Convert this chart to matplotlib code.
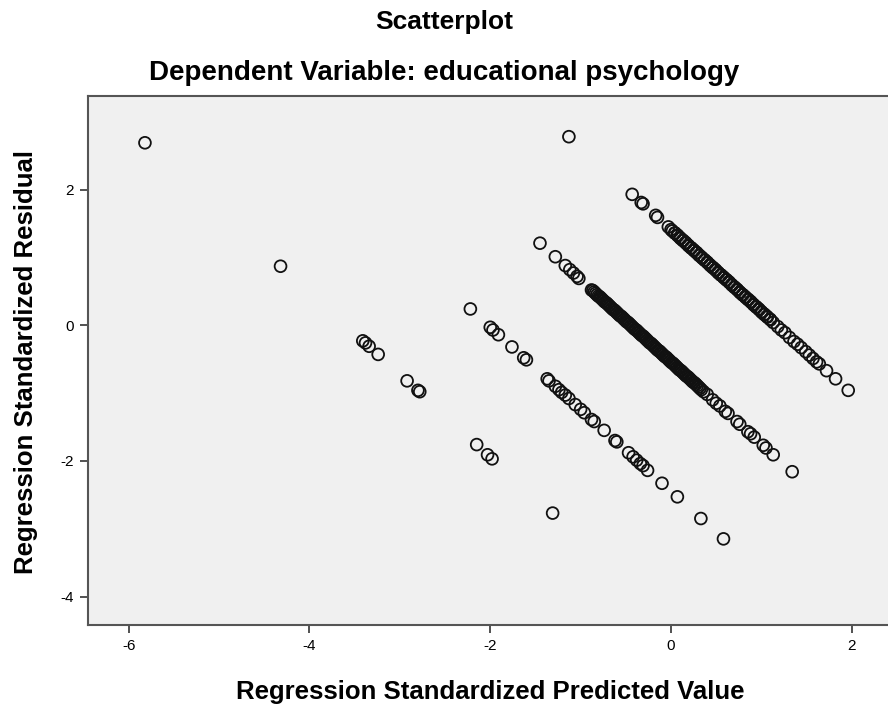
import matplotlib
matplotlib.use("Agg")
import matplotlib.pyplot as plt

plt.rcParams['font.family'] = ['Liberation Sans', 'DejaVu Sans']
plt.rcParams['axes.unicode_minus'] = False

# Band A
a_x = [-1.13, -0.43, -0.33, -0.31, -0.17, -0.15, -0.03, 0.00, 0.04, 0.07, 0.10, 0.13, 0.16, 0.19,
       0.22, 0.25, 0.28, 0.31, 0.34, 0.37, 0.40, 0.43, 0.46, 0.49, 0.52, 0.55, 0.58, 0.61, 0.64,
       0.67, 0.70, 0.73, 0.76, 0.79, 0.82, 0.85, 0.88, 0.91, 0.94, 0.97, 1.00, 1.03, 1.06, 1.10,
       1.13, 1.18, 1.22, 1.26, 1.31, 1.36, 1.40, 1.44, 1.49, 1.53, 1.57, 1.61, 1.64, 1.72, 1.82, 1.96]
a_y = [2.78, 1.93, 1.81, 1.79, 1.62, 1.59, 1.45, 1.41, 1.36, 1.33, 1.29, 1.25, 1.22, 1.18,
       1.14, 1.11, 1.07, 1.03, 1.00, 0.96, 0.93, 0.89, 0.85, 0.82, 0.78, 0.74, 0.71, 0.67, 0.64,
       0.60, 0.56, 0.53, 0.49, 0.45, 0.42, 0.38, 0.35, 0.31, 0.27, 0.24, 0.20, 0.16, 0.13, 0.08,
       0.04, -0.02, -0.07, -0.11, -0.18, -0.24, -0.28, -0.33, -0.39, -0.44, -0.49, -0.54, -0.57, -0.67, -0.79, -0.96]
# Band A, dense part (overlapping cases)
a2_x = [0.015, 0.045, 0.075, 0.105, 0.135, 0.165, 0.195, 0.225, 0.255, 0.285, 0.315, 0.345, 0.375,
        0.405, 0.435, 0.465, 0.495, 0.525, 0.555, 0.585, 0.615, 0.645, 0.675, 0.705, 0.735, 0.765,
        0.795, 0.825, 0.855, 0.885, 0.915, 0.945, 0.975, 1.005, 1.035, 1.065, 1.095]
a2_y = [1.39, 1.36, 1.32, 1.28, 1.25, 1.21, 1.17, 1.14, 1.10, 1.07, 1.03, 0.99, 0.96,
        0.92, 0.88, 0.85, 0.81, 0.77, 0.74, 0.70, 0.67, 0.63, 0.59, 0.56, 0.52, 0.48,
        0.45, 0.41, 0.38, 0.34, 0.30, 0.27, 0.23, 0.19, 0.16, 0.12, 0.09]

# Band B
b_x = [-1.45, -1.28, -1.17, -1.12, -1.08, -1.04, -1.02, -0.88, -0.85, -0.82, -0.79, -0.76, -0.73,
       -0.70, -0.67, -0.64, -0.61, -0.58, -0.55, -0.52, -0.49, -0.46, -0.43, -0.40, -0.37, -0.34,
       -0.31, -0.28, -0.25, -0.22, -0.19, -0.16, -0.13, -0.10, -0.07, -0.04, -0.01, 0.02, 0.05,
       0.08, 0.11, 0.14, 0.17, 0.20, 0.23, 0.26, 0.29, 0.32, 0.36, 0.40, 0.46, 0.50, 0.54, 0.60,
       0.63, 0.73, 0.76, 0.85, 0.88, 0.92, 1.02, 1.05, 1.13, 1.34]
b_y = [1.21, 1.01, 0.88, 0.82, 0.77, 0.72, 0.69, 0.52, 0.49, 0.45, 0.42, 0.38, 0.34,
       0.31, 0.27, 0.23, 0.20, 0.16, 0.13, 0.09, 0.05, 0.02, -0.02, -0.06, -0.09, -0.13,
       -0.16, -0.20, -0.24, -0.27, -0.31, -0.35, -0.38, -0.42, -0.46, -0.49, -0.53, -0.56, -0.60,
       -0.64, -0.67, -0.71, -0.75, -0.78, -0.82, -0.85, -0.89, -0.93, -0.98, -1.02, -1.10, -1.15, -1.19, -1.27,
       -1.30, -1.42, -1.46, -1.57, -1.60, -1.65, -1.77, -1.81, -1.91, -2.16]
# Band B, dense part
b2_x = [-0.865, -0.835, -0.805, -0.775, -0.745, -0.715, -0.685, -0.655, -0.625, -0.595, -0.565,
        -0.535, -0.505, -0.475, -0.445, -0.415, -0.385, -0.355, -0.325, -0.295, -0.265, -0.235,
        -0.205, -0.175, -0.145, -0.115, -0.085, -0.055, -0.025, 0.005, 0.035, 0.065, 0.095, 0.125,
        0.155, 0.185, 0.215, 0.245, 0.275, 0.305, 0.335]
b2_y = [0.51, 0.47, 0.43, 0.40, 0.36, 0.33, 0.29, 0.25, 0.22, 0.18, 0.14,
        0.11, 0.07, 0.04, 0.00, -0.04, -0.07, -0.11, -0.15, -0.18, -0.22, -0.26,
        -0.29, -0.33, -0.37, -0.40, -0.44, -0.47, -0.51, -0.55, -0.58, -0.62, -0.66, -0.69,
        -0.73, -0.76, -0.80, -0.84, -0.87, -0.91, -0.95]

# Band C
c_x = [-2.22, -2.00, -1.97, -1.91, -1.76, -1.63, -1.60, -1.37, -1.35, -1.28, -1.24, -1.21, -1.17,
       -1.13, -1.06, -1.00, -0.96, -0.88, -0.85, -0.74, -0.62, -0.60, -0.47, -0.42, -0.38, -0.34,
       -0.31, -0.26, -0.10, 0.07, 0.33, 0.58]
c_y = [0.24, -0.03, -0.07, -0.14, -0.32, -0.48, -0.51, -0.79, -0.82, -0.90, -0.95, -0.99, -1.03,
       -1.08, -1.17, -1.24, -1.29, -1.39, -1.42, -1.55, -1.70, -1.72, -1.88, -1.94, -1.99, -2.04,
       -2.07, -2.14, -2.33, -2.53, -2.85, -3.15]

# Band D
d_x = [-5.82, -4.32, -3.41, -3.38, -3.34, -3.24, -2.92, -2.80, -2.78, -2.15, -2.03, -1.98, -1.31]
d_y = [2.69, 0.87, -0.23, -0.26, -0.31, -0.43, -0.82, -0.96, -0.98, -1.76, -1.91, -1.97, -2.77]

x_ticks = [-6, -4, -2, 0, 2]
y_ticks = [-4, -2, 0, 2]

fig = plt.figure(figsize=(8.88, 7.06), dpi=100)
ax = fig.add_axes([88/888, 1-625/706, 1-88/888, (625-96)/706])
ax.set_facecolor('#F0F0F0')

for xs, ys in [(a_x, a_y), (a2_x, a2_y), (b_x, b_y), (b2_x, b2_y), (c_x, c_y), (d_x, d_y)]:
    ax.scatter(xs, ys, s=72, facecolors='none', edgecolors='#111111', linewidths=1.3, zorder=3)

ax.set_xlim(-6.45, 2.40)
ax.set_ylim(-4.42, 3.38)
ax.set_xticks(x_ticks)
ax.set_yticks(y_ticks)
ax.tick_params(direction='out', length=6, width=1.2, color='#333333', labelsize=11, pad=4)
for s in ['left', 'bottom', 'top']:
    ax.spines[s].set_color('#555555')
    ax.spines[s].set_linewidth(1.5)
ax.spines['right'].set_visible(False)

fig.text(490/888, 1-692/706, 'Regression Standardized Predicted Value', ha='center', va='center',
         fontsize=18.5, fontweight='bold')
fig.text(26/888, 1-362/706, 'Regression Standardized Residual', ha='center', va='center',
         rotation=90, fontsize=18.5, fontweight='bold')

fig.text(444/888, 1-22/706, 'Scatterplot', ha='center', va='center', fontsize=19, fontweight='bold')
fig.text(444/888, 1-73/706, 'Dependent Variable: educational psychology', ha='center', va='center',
         fontsize=20, fontweight='bold')

fig.savefig('out.png', dpi=100)
